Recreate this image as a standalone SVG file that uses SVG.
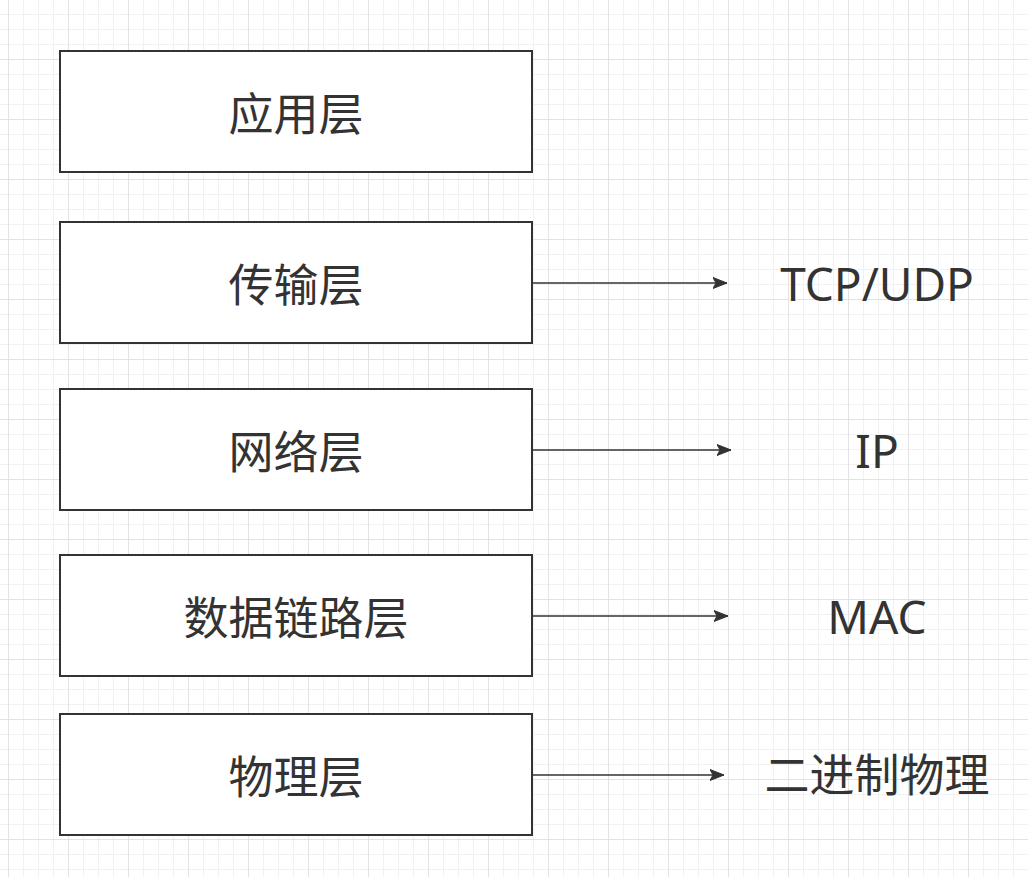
<svg xmlns="http://www.w3.org/2000/svg" width="1028" height="877" viewBox="0 0 1028 877">
<defs>
<style>
.box{fill:#ffffff;stroke:#333333;stroke-width:2}
.lbl{font-family:"Noto Sans","Noto Sans CJK SC",sans-serif;font-size:45px;fill:#333333;text-anchor:middle}
.lat{font-size:46px}
.conn{stroke:#333333;stroke-width:1.5;fill:none}
</style>
<pattern id="grid" patternUnits="userSpaceOnUse" x="8" y="-1" width="60" height="60">
<rect x="0" y="0" width="60" height="60" fill="#ffffff"/>
<rect x="15" y="0" width="1" height="60" fill="#f1f1f1"/>
<rect x="30" y="0" width="1" height="60" fill="#f1f1f1"/>
<rect x="45" y="0" width="1" height="60" fill="#f1f1f1"/>
<rect x="0" y="15" width="60" height="1" fill="#f1f1f1"/>
<rect x="0" y="30" width="60" height="1" fill="#f1f1f1"/>
<rect x="0" y="45" width="60" height="1" fill="#f1f1f1"/>
<rect x="0" y="0" width="1" height="60" fill="#e3e3e3"/>
<rect x="0" y="0" width="60" height="1" fill="#e3e3e3"/>
</pattern>
<marker id="arrow" markerUnits="userSpaceOnUse" markerWidth="16" markerHeight="14" refX="14" refY="7" orient="auto">
<path d="M0,1.5 L14,7 L0,12.5 L3,7 Z" fill="#333333" stroke="#333333" stroke-width="1"/>
</marker>
</defs>
<rect x="0" y="0" width="1028" height="877" fill="url(#grid)"/>

<g id="connectors">
<line class="conn" x1="532" y1="283" x2="727" y2="283" marker-end="url(#arrow)"/>
<line class="conn" x1="532" y1="450" x2="731" y2="450" marker-end="url(#arrow)"/>
<line class="conn" x1="532" y1="616" x2="728" y2="616" marker-end="url(#arrow)"/>
<line class="conn" x1="532" y1="775" x2="724" y2="775" marker-end="url(#arrow)"/>
</g>

<g id="node-app">
<rect class="box" x="60" y="51" width="472" height="121"/>
<text class="lbl" x="296" y="131">应用层</text>
</g>
<g id="node-transport">
<rect class="box" x="60" y="222" width="472" height="121"/>
<text class="lbl" x="296" y="302">传输层</text>
</g>
<g id="node-network">
<rect class="box" x="60" y="389" width="472" height="121"/>
<text class="lbl" x="296" y="469">网络层</text>
</g>
<g id="node-datalink">
<rect class="box" x="60" y="555" width="472" height="121"/>
<text class="lbl" x="296" y="635">数据链路层</text>
</g>
<g id="node-physical">
<rect class="box" x="60" y="714" width="472" height="121"/>
<text class="lbl" x="296" y="794">物理层</text>
</g>

<g id="label-tcpudp"><text class="lbl lat" x="877" y="301">TCP/UDP</text></g>
<g id="label-ip"><text class="lbl lat" x="877" y="468">IP</text></g>
<g id="label-mac"><text class="lbl lat" x="877" y="634">MAC</text></g>
<g id="label-binary"><text class="lbl" x="877" y="792">二进制物理</text></g>
</svg>
